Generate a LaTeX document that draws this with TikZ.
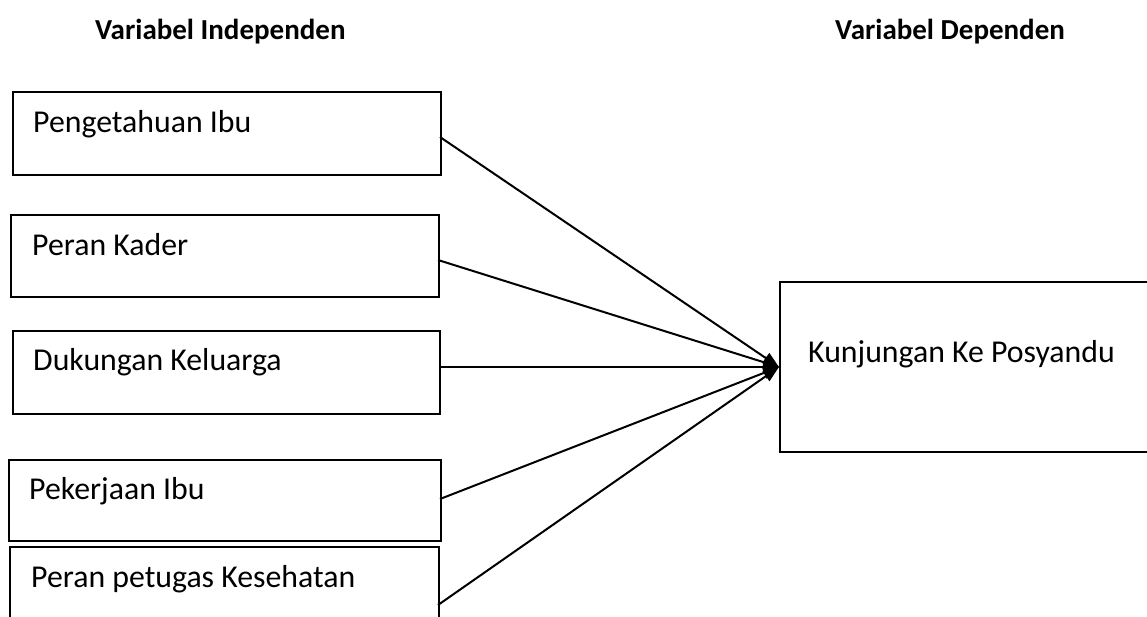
\documentclass[tikz,border=0pt]{standalone}
\usepackage{fontspec}
\setmainfont{Carlito}
\usetikzlibrary{arrows.meta}
\begin{document}
\begin{tikzpicture}[x=1pt,y=-1pt,
  box/.style={draw,line width=1.6pt,rectangle,anchor=north west,inner sep=0pt},
  txt/.style={anchor=base west,inner sep=0pt,font=\fontsize{31.8}{38}\selectfont},
  ttl/.style={anchor=base west,inner sep=0pt,font=\fontsize{29}{35}\selectfont\bfseries},
  conn/.style={line width=2pt,-{Triangle[length=16pt,width=12pt]}}]
\useasboundingbox (0,0) rectangle (1147,616);
\node[ttl] (t1) at (95,39) {Variabel Independen};
\node[ttl] (t2) at (835,39) {Variabel Dependen};
\node[box,minimum width=428pt,minimum height=83pt] (b1) at (12,91) {};
\node[box,minimum width=428pt,minimum height=82pt] (b2) at (10,214) {};
\node[box,minimum width=427pt,minimum height=83pt] (b3) at (12,330) {};
\node[box,minimum width=432pt,minimum height=81pt] (b4) at (8,459) {};
\node[box,minimum width=429pt,minimum height=80pt] (b5) at (9,546) {};
\node[box,minimum width=380pt,minimum height=170pt] (r) at (779,281) {};
\node[txt] (l1) at (33,132) {Pengetahuan Ibu};
\node[txt] (l2) at (32,255) {Peran Kader};
\node[txt] (l3) at (33,370) {Dukungan Keluarga};
\node[txt] (l4) at (29,499) {Pekerjaan Ibu};
\node[txt] (l5) at (31,587) {Peran petugas Kesehatan};
\node[txt] (lr) at (808,362) {Kunjungan Ke Posyandu};
\coordinate (tip) at (779,367);
\coordinate (s1) at (440,137);
\coordinate (s2) at (438,260);
\coordinate (s3) at (439,367);
\coordinate (s4) at (440,499);
\coordinate (s5) at (438,605);
\draw[conn] (s1) -- (tip);
\draw[conn] (s2) -- (tip);
\draw[conn] (s3) -- (tip);
\draw[conn] (s4) -- (tip);
\draw[conn] (s5) -- (tip);
\end{tikzpicture}
\end{document}
